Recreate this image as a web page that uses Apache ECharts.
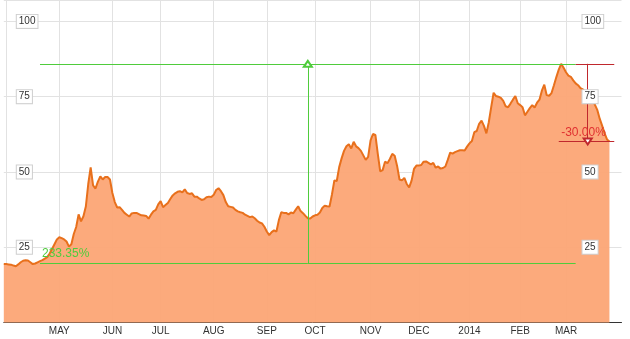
<!DOCTYPE html>
<html>
<head>
<meta charset="utf-8">
<script src="https://cdn.jsdelivr.net/npm/echarts@6/dist/echarts.min.js"></script>
<style>
html,body{margin:0;padding:0;background:#fff;}
#chart{width:630px;height:339px;}
</style>
</head>
<body>
<div id="chart"></div>
<script>
// ---- data ----
const startDate = '2013-03-28';
const holidays = ['2013-03-29','2013-05-27','2013-07-04','2013-09-02','2013-11-28','2013-12-25','2014-01-01','2014-01-20','2014-02-17'];
const paddingDays = 5; // empty trading days after the last close
const prices = [
19.4,19.4,19.3,19.2,18.9,18.7,19.3,20.0,20.5,20.7,
20.6,20.0,19.4,19.6,20.0,20.4,20.7,21.2,21.7,22.9,
24.4,26.0,27.6,28.3,28.0,27.6,26.9,25.2,26.0,29.4,
31.7,35.9,33.6,35.3,38.5,46.0,51.5,45.5,44.5,46.8,
48.5,47.5,48.3,48.3,47.5,43.0,40.0,38.2,38.3,37.4,
36.4,35.8,35.2,36.2,36.4,36.4,36.0,35.6,35.5,35.4,
34.5,35.8,36.9,37.4,39.2,40.3,38.3,39.0,39.7,41.0,
42.2,42.9,43.4,43.6,43.2,44.2,43.0,42.7,42.9,41.8,
41.8,41.2,40.7,40.9,41.6,41.8,41.7,42.4,44.0,44.6,
43.6,42.3,40.0,38.6,38.4,38.2,37.4,36.9,36.6,36.4,
35.8,35.4,35.0,35.2,34.6,33.8,33.2,32.9,31.8,30.2,
29.0,30.0,30.6,30.2,34.0,36.6,36.4,36.4,35.9,36.5,
36.3,37.5,38.6,37.0,36.3,35.4,34.6,34.5,
35.2,35.6,35.8,36.5,38.0,38.8,38.6,38.5,42.5,47.2,47.0,
51.6,54.5,57.0,58.5,59.2,57.8,60.0,58.5,57.9,57.0,
55.5,54.0,55.0,60.5,62.6,62.3,56.0,50.2,50.6,53.4,
52.9,54.3,56.0,55.4,52.0,47.5,47.2,48.0,46.0,44.9,
47.1,51.0,52.1,52.1,52.3,53.4,53.5,53.0,52.5,53.0,
51.4,51.8,51.1,51.3,51.8,54.0,56.4,56.1,56.6,56.9,
57.2,57.2,57.1,58.4,59.5,60.3,63.2,63.6,66.0,67.0,
65.3,62.8,66.5,71.5,76.3,75.2,75.0,74.6,73.6,71.8,
71.5,72.7,74.0,75.2,72.8,72.2,71.5,68.8,70.0,71.2,
72.2,71.4,73.0,74.0,77.0,79.0,75.5,75.3,76.2,78.8,
81.5,84.0,85.9,84.6,83.1,82.0,81.6,80.4,79.4,78.8,
77.8,77.4,76.5,75.8,75.3,73.8,72.3,70.5,67.6,65.3,
62.8,60.8,60.1
];
const monthNames = ['JAN','FEB','MAR','APR','MAY','JUN','JUL','AUG','SEP','OCT','NOV','DEC'];
const yTicks = [25, 50, 75, 100];
// annotations (dates / values)
const gainFrom = '2013-04-19', gainTo = '2014-03-07', gainAt = '2013-09-26';
const gainLow = 19.7, gainHigh = 85.9, gainText = '233.35%';
const dropFrom = '2014-03-07', dropLowFrom = '2014-02-26', dropTo = '2014-03-31', dropAt = '2014-03-14';
const dropLow = 60.1, dropText = '-30.00%';

// ---- build trading-day categories ----
function pad(n){return n<10?'0'+n:''+n;}
function fmt(d){return d.getUTCFullYear()+'-'+pad(d.getUTCMonth()+1)+'-'+pad(d.getUTCDate());}
const categories = [];
(function(){
  const p = startDate.split('-').map(Number);
  let d = new Date(Date.UTC(p[0], p[1]-1, p[2]));
  const total = prices.length + paddingDays;
  while (categories.length < total) {
    const wd = d.getUTCDay();
    const s = fmt(d);
    if (wd !== 0 && wd !== 6 && holidays.indexOf(s) < 0) categories.push(s);
    d = new Date(d.getTime() + 86400000);
  }
})();
const seriesData = categories.map((c, i) => i < prices.length ? prices[i] : null);
const monthStart = categories.map((c, i) => i > 0 && i < prices.length && c.slice(5,7) !== categories[i-1].slice(5,7));

const FONT = 'Arial, "Liberation Sans", sans-serif';
const GREEN = '#4fcc3c', RED = '#c0282d';
const yMax = 107.1;

const labelBox = {
  inside: true, fontSize: 10, color: '#333', fontFamily: FONT,
  backgroundColor: '#fff', borderColor: '#cfcfcf', borderWidth: 1,
  padding: [2, 2, 1, 2], align: 'left',
  showMinLabel: false, showMaxLabel: false
};

const chart = echarts.init(document.getElementById('chart'), null, {renderer: 'canvas'});
chart.setOption({
  animation: false,
  backgroundColor: '#fff',
  grid: {left: 3.8, right: 8.5, top: -1, bottom: 16.5, containLabel: false},
  xAxis: {
    type: 'category', data: categories, boundaryGap: false,
    axisLine: {show: true, lineStyle: {color: '#333', width: 1}},
    axisTick: {show: false, interval: (i) => monthStart[i]},
    splitLine: {show: true, interval: (i) => monthStart[i], lineStyle: {color: '#e2e2e2', width: 1}},
    axisLabel: {
      interval: (i) => monthStart[i] && i > 5,
      formatter: (v) => { const m = +v.slice(5,7) - 1; return m === 0 ? v.slice(0,4) : monthNames[m]; },
      fontSize: 10, color: '#333', fontFamily: FONT, margin: 4
    }
  },
  yAxis: [
    {type: 'value', min: 0, max: yMax, interval: 25, position: 'left',
     axisLine: {show: false}, axisTick: {show: false}, axisLabel: {show: false},
     splitLine: {show: true, lineStyle: {color: '#e2e2e2', width: 1}}},
    {type: 'value', min: 0, max: yMax, interval: 25, position: 'left', z: 10,
     axisLine: {show: false}, axisTick: {show: false}, splitLine: {show: false},
     axisLabel: Object.assign({}, labelBox, {margin: 13})},
    {type: 'value', min: 0, max: yMax, interval: 25, position: 'right', z: 10,
     axisLine: {show: false}, axisTick: {show: false}, splitLine: {show: false},
     axisLabel: Object.assign({}, labelBox, {margin: 39})}
  ],
  series: [{
    type: 'line', data: seriesData, yAxisIndex: 0,
    showSymbol: false, symbol: 'none', smooth: false, connectNulls: false,
    lineStyle: {color: '#e8701c', width: 2},
    areaStyle: {color: '#fca574', opacity: 0.94},
    markLine: {
      silent: true, animation: false, symbol: 'none',
      label: {show: false},
      emphasis: {disabled: true},
      data: [
        [{coord: [gainFrom, gainHigh], lineStyle: {color: GREEN, width: 1, type: 'solid'}}, {coord: [gainTo, gainHigh]}],
        [{coord: [gainFrom, gainLow], lineStyle: {color: GREEN, width: 1, type: 'solid'},
          label: {show: true, formatter: gainText, position: 'insideStartTop', distance: [2, 3],
                  color: GREEN, fontSize: 12, fontFamily: FONT}},
         {coord: [gainTo, gainLow]}],
        [{coord: [gainAt, gainLow], symbol: 'none', lineStyle: {color: GREEN, width: 1, type: 'solid'}},
         {coord: [gainAt, gainHigh], symbol: 'emptyTriangle', symbolSize: [8, 6]}],
        [{coord: [dropFrom, gainHigh], lineStyle: {color: RED, width: 1, type: 'solid'}}, {coord: [dropTo, gainHigh]}],
        [{coord: [dropLowFrom, dropLow], lineStyle: {color: RED, width: 1, type: 'solid'},
          label: {show: true, formatter: dropText, position: 'insideMiddleTop', distance: 3,
                  color: '#e03030', fontSize: 12, fontFamily: FONT, padding: [0, 6, 0, 0]}},
         {coord: [dropTo, dropLow]}],
        [{coord: [dropAt, gainHigh], symbol: 'none', lineStyle: {color: RED, width: 1, type: 'solid'}},
         {coord: [dropAt, dropLow], symbol: 'emptyTriangle', symbolSize: [8, 6]}]
      ]
    }
  }]
});
</script>
</body>
</html>
